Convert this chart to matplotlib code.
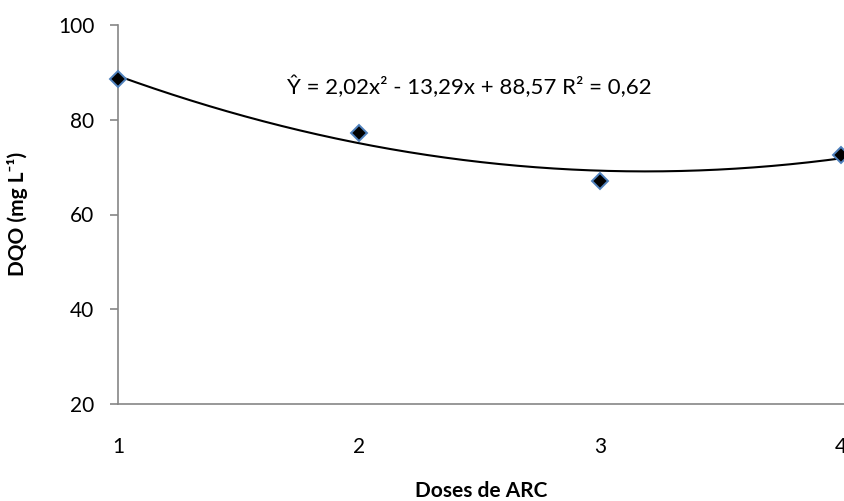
import numpy as np
import matplotlib as mpl
mpl.use('Agg')
import matplotlib.pyplot as plt

plt.rcParams['font.family'] = ['Lato', 'DejaVu Sans']

# dados
doses = [1, 2, 3, 4]
dqo = [88.5, 77.3, 67.0, 72.6]
equacao = "Ŷ = 2,02x² - 13,29x + 88,57 R² = 0,62"
y_ticks = [20, 40, 60, 80, 100]

# linha de tendencia polinomial (grau 2)
coef = np.polyfit(doses, dqo, 2)
xx = np.linspace(1, 4, 200)
yy = np.polyval(coef, xx)

fig = plt.figure(figsize=(8.45, 5.01), dpi=100)
ax = fig.add_axes([118/845, 97/501, 727/845, 379/501])

ax.plot(xx, yy, color='black', lw=1.5, zorder=2)
ax.plot(doses, dqo, ls='none', marker='D', ms=8.5, mfc='black',
        mec='#4F81BD', mew=1.4, zorder=3, clip_on=False)

ax.set_xlim(1, 4.017)
ax.set_ylim(20, 100)
ax.set_xticks(doses)
ax.set_yticks(y_ticks)

for s in ['top', 'right']:
    ax.spines[s].set_visible(False)
for s in ['left', 'bottom']:
    ax.spines[s].set_color('#868686')
    ax.spines[s].set_linewidth(1.2)

ax.tick_params(axis='y', length=6, width=1.2, color='#868686', labelsize=15, pad=11)
ax.tick_params(axis='x', length=0, labelsize=15, pad=24)

ax.text(1.70, 87, equacao, fontsize=16, ha='left', va='center')

fig.text(481.5/845, 1 - 491/501, "Doses de ARC", fontsize=15, fontweight='bold',
         ha='center', va='center')
fig.text(18/845, 1 - 214/501, "DQO (mg L⁻¹)", fontsize=15, fontweight='bold',
         ha='center', va='center', rotation=90)

fig.savefig("out.png", dpi=100)
plt.close()
